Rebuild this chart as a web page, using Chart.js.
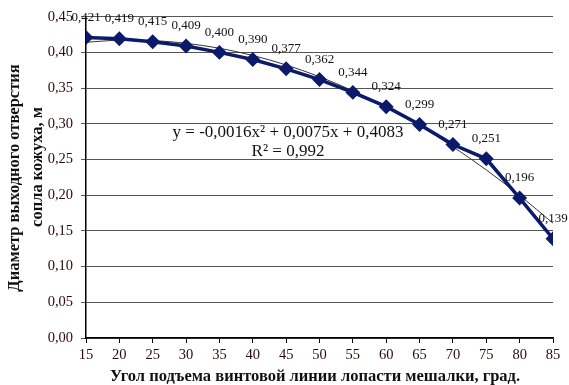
<!DOCTYPE html>
<html>
<head>
<meta charset="utf-8">
<script src="https://cdn.jsdelivr.net/npm/chart.js@4"></script>
<style>
    html, body { margin: 0; padding: 0; background: #fff; }
    #chart { display: block; }
</style>
</head>
<body>
<canvas id="chart" width="569" height="385"></canvas>
<script>
// data
const angles = [15, 20, 25, 30, 35, 40, 45, 50, 55, 60, 65, 70, 75, 80, 85];
const diameters = [0.421, 0.419, 0.415, 0.409, 0.400, 0.390, 0.377, 0.362, 0.344, 0.324, 0.299, 0.271, 0.251, 0.196, 0.139];
// polynomial trend line values (at the same points, x = 1..15)
const trendValues = [0.4142, 0.4169, 0.4164, 0.4127, 0.4058, 0.3957, 0.3824, 0.3659, 0.3462, 0.3233, 0.2972, 0.2679, 0.2354, 0.1997, 0.1608];
const equationText = "y = -0,0016x² + 0,0075x + 0,4083";
const r2Text = "R² = 0,992";
const xTitle = "Угол подъема винтовой линии лопасти мешалки, град.";
const yTitle = ["Диаметр выходного отверстия", "сопла кожуха, м"];

const serif = "'Liberation Serif', 'Times New Roman', serif";
const comma = v => v.toFixed(2).replace('.', ',');

// draws data labels, equation and axis titles
const extras = {
    id: 'extras',
    afterDatasetsDraw(chart) {
        const ctx = chart.ctx;
        const meta = chart.getDatasetMeta(0);
        ctx.save();
        ctx.fillStyle = '#111';
        ctx.textAlign = 'center';
        ctx.textBaseline = 'middle';
        ctx.font = "13px " + serif;
        meta.data.forEach((pt, i) => {
            ctx.fillText(diameters[i].toFixed(3).replace('.', ','), pt.x, pt.y - 20);
        });

        // trend equation
        ctx.font = "17px " + serif;
        ctx.fillText(equationText, 288, 133);
        ctx.fillText(r2Text, 288, 152);

        // axis titles
        ctx.font = "bold 16.5px " + serif;
        ctx.fillText(xTitle, 315, 377);
        ctx.save();
        ctx.translate(15, 178);
        ctx.rotate(-Math.PI / 2);
        ctx.fillText(yTitle[0], 0, 0);
        ctx.restore();
        ctx.translate(38, 167);
        ctx.rotate(-Math.PI / 2);
        ctx.fillText(yTitle[1], 0, 0);
        ctx.restore();
    }
};

const ctx = document.getElementById("chart").getContext("2d");
new Chart(ctx, {
    type: 'line',
    data: {
        datasets: [
            {
                data: angles.map((a, i) => ({ x: a, y: diameters[i] })),
                borderColor: '#0b1a6b',
                backgroundColor: '#0b1a6b',
                borderWidth: 3.5,
                pointStyle: 'rectRot',
                pointRadius: 5,
                pointHoverRadius: 5,
                tension: 0
            },
            {
                data: angles.map((a, i) => ({ x: a, y: trendValues[i] })),
                borderColor: '#333',
                borderWidth: 1,
                pointRadius: 0,
                cubicInterpolationMode: 'monotone'
            }
        ]
    },
    options: {
        responsive: false,
        animation: false,
        layout: { padding: { left: 0, right: 16, top: 16, bottom: 0 } },
        plugins: { legend: { display: false }, tooltip: { enabled: false } },
        scales: {
            x: {
                type: 'linear',
                min: 15,
                max: 85,
                afterFit: s => { s.height = 47; },
                ticks: { stepSize: 5, autoSkip: false, maxRotation: 0, color: '#2a0c0c', font: { family: serif, size: 14.5 }, padding: 3 },
                grid: { drawOnChartArea: false, color: '#000', tickLength: 5 },
                border: { color: '#000', width: 1.5 }
            },
            y: {
                min: 0,
                max: 0.45,
                afterFit: s => { s.width = 86; },
                ticks: { stepSize: 0.05, color: '#2a0c0c', font: { family: serif, size: 14.5 }, padding: 8,
                    callback: v => comma(v) },
                grid: { color: '#555', tickLength: 5 },
                border: { color: '#000', width: 1.5 }
            }
        }
    },
    plugins: [extras]
});
</script>
</body>
</html>
